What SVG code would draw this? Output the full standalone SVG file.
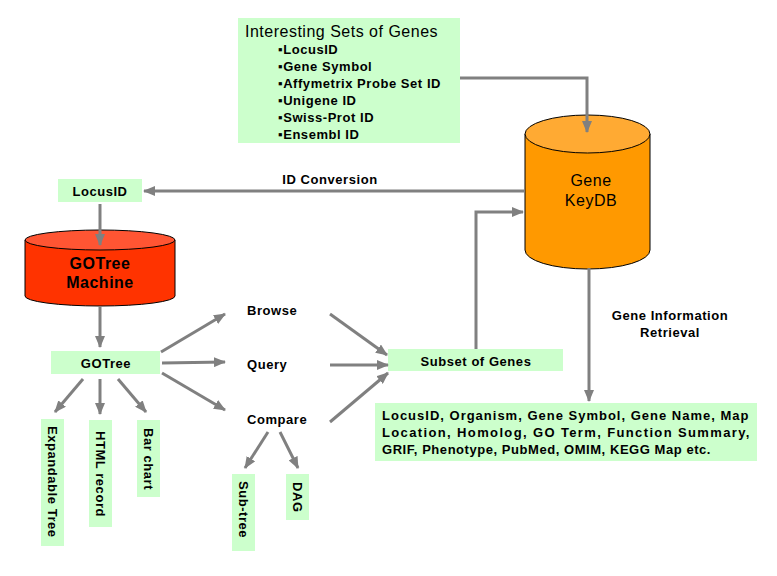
<svg xmlns="http://www.w3.org/2000/svg" width="777" height="576" viewBox="0 0 777 576">
<defs>
<marker id="ah" markerUnits="userSpaceOnUse" markerWidth="12" markerHeight="10" refX="11" refY="5" orient="auto">
<path d="M0,0 L12,5 L0,10 Z" fill="#808080"/>
</marker>
<style>
.box{fill:#CCFFCC;stroke:none}
.t{font-family:"Liberation Sans",Arial,sans-serif;font-weight:bold;font-size:13px;letter-spacing:0.55px;fill:#000}
.big{font-family:"Liberation Sans",Arial,sans-serif;font-size:16px;letter-spacing:0.5px;fill:#000}
.c{stroke:#808080;stroke-width:3;fill:none}
.a{stroke:#808080;stroke-width:3;fill:none;marker-end:url(#ah)}
</style>
</defs>
<rect width="777" height="576" fill="#fff"/>

<g id="interesting">
<rect class="box" x="238" y="18" width="222" height="125"/>
<text class="big" x="245" y="37">Interesting Sets of Genes</text>
<text class="t" x="278" y="54">▪LocusID</text>
<text class="t" x="278" y="71">▪Gene Symbol</text>
<text class="t" x="278" y="88">▪Affymetrix Probe Set ID</text>
<text class="t" x="278" y="105">▪Unigene ID</text>
<text class="t" x="278" y="122">▪Swiss-Prot ID</text>
<text class="t" x="278" y="139">▪Ensembl ID</text>
</g>

<g id="keydb">
<path d="M525,134 L525,250 A62.5,19 0 0 0 650,250 L650,134" fill="#FF9900" stroke="#000" stroke-width="1"/>
<ellipse cx="587.5" cy="134" rx="62.5" ry="19" fill="#FFAA33" stroke="#000" stroke-width="1"/>
<text class="big" x="591" y="186" text-anchor="middle" font-size="17">Gene</text>
<text class="big" x="591" y="206" text-anchor="middle" font-size="17">KeyDB</text>
</g>

<g id="locusid">
<rect class="box" x="58" y="179" width="84" height="23"/>
<text class="t" x="100" y="196" text-anchor="middle">LocusID</text>
</g>

<g id="gotreemachine">
<path d="M25,240 L25,296 A75,10 0 0 0 175,296 L175,240" fill="#FF3300" stroke="#000" stroke-width="1"/>
<ellipse cx="100" cy="240" rx="75" ry="10" fill="#FF5533" stroke="#000" stroke-width="1"/>
<text class="big" x="100" y="269" text-anchor="middle" font-weight="bold">GOTree</text>
<text class="big" x="100" y="288" text-anchor="middle" font-weight="bold">Machine</text>
</g>

<g id="gotree">
<rect class="box" x="51" y="351" width="109" height="23"/>
<text class="t" x="106" y="368" text-anchor="middle">GOTree</text>
</g>

<g id="expandable">
<rect class="box" x="41" y="419" width="23" height="127"/>
<text class="t" transform="translate(48,426) rotate(90)">Expandable Tree</text>
</g>
<g id="html">
<rect class="box" x="89" y="420" width="23" height="107"/>
<text class="t" transform="translate(96,431) rotate(90)">HTML record</text>
</g>
<g id="barchart">
<rect class="box" x="137" y="420" width="23" height="77"/>
<text class="t" transform="translate(144,428) rotate(90)">Bar chart</text>
</g>

<g id="browse"><text class="t" x="247" y="315">Browse</text></g>
<g id="query"><text class="t" x="247" y="369">Query</text></g>
<g id="compare"><text class="t" x="247" y="424">Compare</text></g>

<g id="subtree">
<rect class="box" x="232" y="474" width="23" height="77"/>
<text class="t" transform="translate(239,481) rotate(90)">Sub-tree</text>
</g>
<g id="dag">
<rect class="box" x="286" y="474" width="23" height="46"/>
<text class="t" transform="translate(293,482) rotate(90)">DAG</text>
</g>

<g id="subset">
<rect class="box" x="388" y="349" width="175" height="22"/>
<text class="t" x="476" y="366" text-anchor="middle">Subset of Genes</text>
</g>

<g id="info">
<rect class="box" x="375" y="403" width="382" height="58"/>
<text class="t" x="382" y="420" textLength="367" lengthAdjust="spacing">LocusID, Organism, Gene Symbol, Gene Name, Map</text>
<text class="t" x="382" y="437" textLength="368" lengthAdjust="spacing">Location, Homolog, GO Term, Function Summary,</text>
<text class="t" x="382" y="454">GRIF, Phenotype, PubMed, OMIM, KEGG Map etc.</text>
</g>

<g id="labels">
<text class="t" x="330" y="184" text-anchor="middle">ID Conversion</text>
<text class="t" x="670" y="320" text-anchor="middle">Gene Information</text>
<text class="t" x="670" y="337" text-anchor="middle">Retrieval</text>
</g>

<g id="connectors">
<path class="a" d="M460,78 L587,78 L587,132"/>
<path class="a" d="M525,191 L144,191"/>
<path class="a" d="M100,204 L100,245"/>
<path class="a" d="M100,306 L100,347"/>
<path class="a" d="M83,379 L55,412"/>
<path class="a" d="M100,379 L100,414"/>
<path class="a" d="M118,379 L146,412"/>
<path class="a" d="M161,352 L225,314"/>
<path class="a" d="M162,363 L225,362"/>
<path class="a" d="M162,373 L225,410"/>
<path class="a" d="M330,314 L387,355"/>
<path class="a" d="M330,365 L388,365"/>
<path class="a" d="M330,422 L388,373"/>
<path class="a" d="M476,349 L476,212 L523,212"/>
<path class="a" d="M589,268 L589,401"/>
<path class="a" d="M268,432 L245,468"/>
<path class="a" d="M280,432 L298,468"/>
</g>
</svg>
